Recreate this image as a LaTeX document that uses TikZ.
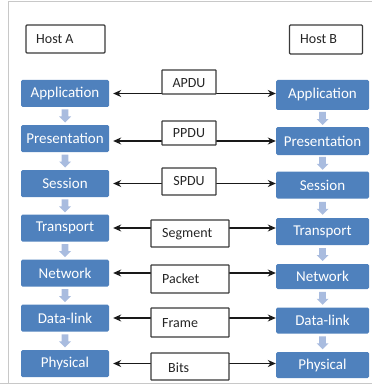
\documentclass[tikz,border=0pt]{standalone}
\usepackage{fontspec}
\setmainfont{Carlito}
\usetikzlibrary{arrows.meta,calc}
\definecolor{boxblue}{HTML}{4F81BD}
\definecolor{downc}{HTML}{A9BCDF}
\definecolor{framec}{HTML}{C8C8C8}
\definecolor{edgec}{HTML}{3A3A3A}
\tikzset{
  layer/.style={fill=boxblue, draw=none, rounded corners=1.5pt, text=white, font=\fontsize{15}{17}\selectfont, inner sep=0pt, minimum height=27pt},
  lcol/.style={layer, minimum width=88pt},
  rcol/.style={layer, minimum width=93pt},
  host/.style={draw=edgec, line width=1.4pt, rounded corners=1pt, fill=white, inner sep=0pt},
  pdu/.style={draw=edgec, line width=1.1pt, fill=white, inner sep=0pt, rounded corners=0.5pt},
  plain/.style={font=\fontsize{14}{16}\selectfont, text=black!85, inner sep=0pt, anchor=west},
  link/.style={line width=1.1pt, draw=black!90, {Stealth[length=8pt,width=7pt]}-{Stealth[length=8pt,width=7pt]}},
}
\newcommand\dnarrow[2]{%
  \fill[downc, shift={($(#1.south)!0.5!(#2.north)$)}] (-3.3,-6.5) -- (-3.3,0.5) -- (-6,0.5) -- (0,6.5) -- (6,0.5) -- (3.3,0.5) -- (3.3,-6.5) -- cycle;}
\begin{document}
\begin{tikzpicture}[x=1pt,y=-1pt]
\useasboundingbox (0,0) rectangle (372,385);
% frame
\draw[framec, line width=1pt] (8,2) -- (372,2);
\draw[framec, line width=1pt] (8,2) -- (8,383.5);
\draw[framec, line width=1pt] (0,383.5) -- (372,383.5);

% hosts
\node[host, minimum width=79pt, minimum height=28pt] (hA) at (65.5,39) {};
\node[plain] (hAt) at (36,39) {Host A};
\node[host, minimum width=73pt, minimum height=29pt] (hB) at (326,39.5) {};
\node[plain] (hBt) at (300,39.5) {Host B};

% left column
\node[lcol] (L1) at (65,93.5) {Application};
\node[lcol] (L2) at (65,138.5) {Presentation};
\node[lcol] (L3) at (65,183.5) {Session};
\node[lcol] (L4) at (65,228) {Transport};
\node[lcol] (L5) at (65,273) {Network};
\node[lcol] (L6) at (65,318) {Data-link};
\node[lcol] (L7) at (65,363.5) {Physical};

% right column
\node[rcol, minimum height=30pt] (R1) at (322.5,95) {Application};
\node[rcol, minimum height=28pt] (R2) at (322.5,141) {Presentation};
\node[rcol] (R3) at (322.5,185) {Session};
\node[rcol] (R4) at (322.5,231.5) {Transport};
\node[rcol, minimum height=25pt] (R5) at (322.5,276.5) {Network};
\node[rcol, minimum height=26pt] (R6) at (322.5,320.5) {Data-link};
\node[rcol, minimum height=26pt] (R7) at (322.5,365) {Physical};

% down arrows
\dnarrow{L1}{L2}\dnarrow{L2}{L3}\dnarrow{L3}{L4}\dnarrow{L4}{L5}\dnarrow{L5}{L6}\dnarrow{L6}{L7}
\dnarrow{R1}{R2}\dnarrow{R2}{R3}\dnarrow{R3}{R4}\dnarrow{R4}{R5}\dnarrow{R5}{R6}\dnarrow{R6}{R7}

% peer arrows
\draw[link] ([xshift=4pt]L1.east) -- (L1.east -| R1.west);
\draw[link] ([xshift=4pt,yshift=-2.5pt]L2.east) -- ([yshift=-2.5pt]L2.east -| R2.west);
\draw[link] ([xshift=4pt]L3.east) -- (L3.east -| R3.west);
\draw[link] ([xshift=4pt]L4.east) -- (L4.east -| R4.west);
\draw[link] ([xshift=4pt]L5.east) -- (L5.east -| R5.west);
\draw[link] ([xshift=4pt]L6.east) -- (L6.east -| R6.west);
\draw[link] ([xshift=4pt]L7.east) -- (L7.east -| R7.west);

% PDU labels
\node[pdu, minimum width=54pt, minimum height=24pt] (P1) at (189,82) {};
\node[plain, anchor=center] (P1t) at (189,83.5) {APDU};
\node[pdu, minimum width=54pt, minimum height=24pt] (P2) at (189,133) {};
\node[plain, anchor=center] (P2t) at (189,133) {PPDU};
\node[pdu, minimum width=54pt, minimum height=27pt] (P3) at (189,181.5) {};
\node[plain, anchor=center] (P3t) at (189,181.5) {SPDU};
\node[pdu, minimum width=78pt, minimum height=27pt] (P4) at (190,233.5) {};
\node[plain] (P4t) at (162,234) {Segment};
\node[pdu, minimum width=78pt, minimum height=28pt] (P5) at (190,279) {};
\node[plain] (P5t) at (162,279) {Packet};
\node[pdu, minimum width=78pt, minimum height=29pt] (P6) at (190,322.5) {};
\node[plain] (P6t) at (162,323) {Frame};
\node[pdu, minimum width=78pt, minimum height=27pt] (P7) at (190,366.5) {};
\node[plain] (P7t) at (168,367.5) {Bits};
\end{tikzpicture}
\end{document}
